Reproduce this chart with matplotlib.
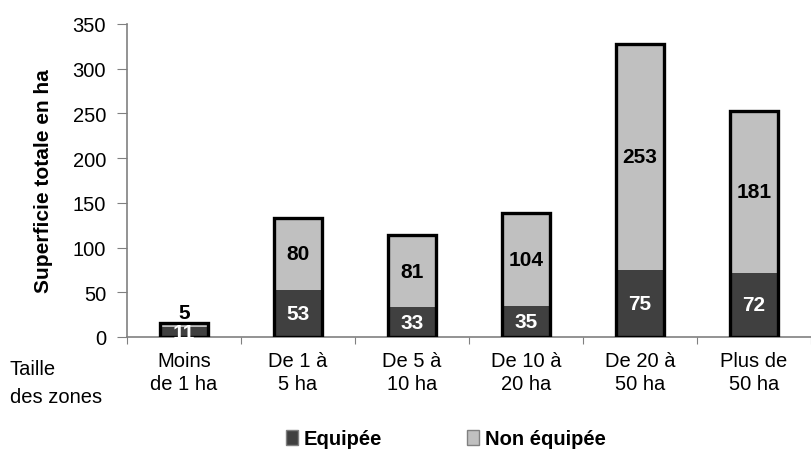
import matplotlib
matplotlib.use("Agg")
import matplotlib.pyplot as plt
from matplotlib.patches import Patch
import numpy as np

plt.rcParams['font.family'] = ['Liberation Sans', 'DejaVu Sans']

categories = ["Moins\nde 1 ha", "De 1 à\n5 ha", "De 5 à\n10 ha", "De 10 à\n20 ha", "De 20 à\n50 ha", "Plus de\n50 ha"]
equipee = [11, 53, 33, 35, 75, 72]
non_equipee = [5, 80, 81, 104, 253, 181]
yticks = [0, 50, 100, 150, 200, 250, 300, 350]

fs = 14.5
fig = plt.figure(figsize=(8.11, 4.56), dpi=100)
ax = fig.add_axes([127/811, 1 - 338/456, (811 - 127)/811, (338 - 25)/456])

x = np.arange(len(categories))
w = 0.42
dark = '#404040'
light = '#c0c0c0'
ax.bar(x, equipee, w, color=dark, edgecolor='none', zorder=2)
ax.bar(x, non_equipee, w, bottom=equipee, color=light, edgecolor='none', zorder=2)
totals = np.array(equipee) + np.array(non_equipee)
ax.bar(x, totals, w, fill=False, edgecolor='black', linewidth=2.4, zorder=3)

for i in range(len(categories)):
    ax.text(x[i], equipee[i] / 2, str(equipee[i]), ha='center', va='center',
            color='white', fontsize=15, fontweight='bold', zorder=4)
    if i == 0:
        ax.text(x[i], totals[i] + 11, str(non_equipee[i]), ha='center', va='center',
                color='black', fontsize=15, fontweight='bold', zorder=4)
    else:
        ax.text(x[i], equipee[i] + non_equipee[i] / 2, str(non_equipee[i]), ha='center',
                va='center', color='black', fontsize=15, fontweight='bold', zorder=4)

ax.set_xlim(-0.5, 5.42)
ax.set_ylim(0, 350)
ax.set_yticks(yticks)
ax.set_yticklabels([str(t) for t in yticks], fontsize=fs)
ax.set_xticks(np.arange(len(categories) + 1) - 0.5, minor=False)
ax.set_xticklabels([])
ax.set_xticks(x, minor=True)
ax.set_xticklabels(categories, minor=True, fontsize=fs, linespacing=1.3)
ax.tick_params(axis='x', which='minor', length=0, pad=10)
ax.tick_params(axis='x', which='major', length=5, color='#808080')
ax.tick_params(axis='y', length=7, color='#808080', pad=8)
for s in ['top', 'right']:
    ax.spines[s].set_visible(False)
ax.spines['left'].set_color('#808080')
ax.spines['bottom'].set_color('#808080')
ax.spines['left'].set_linewidth(1.2)
ax.spines['bottom'].set_linewidth(1.2)
ax.set_ylabel("Superficie totale en ha", fontsize=15, fontweight='bold', labelpad=14)

fig.text(10/811, 1 - 384/456, "Taille\ndes zones", ha='left', va='center', fontsize=fs, linespacing=1.6)

handles = [Patch(facecolor=dark, edgecolor='#808080', label='Equipée'),
           Patch(facecolor=light, edgecolor='#808080', label='Non équipée')]
fig.legend(handles=handles, loc='center', bbox_to_anchor=(446/811, 1 - 440/456), ncol=2,
           frameon=False, prop={'weight': 'bold', 'size': fs}, handlelength=0.6,
           handleheight=0.7, handletextpad=0.3, columnspacing=4.2)

fig.savefig("out.png", dpi=100)
